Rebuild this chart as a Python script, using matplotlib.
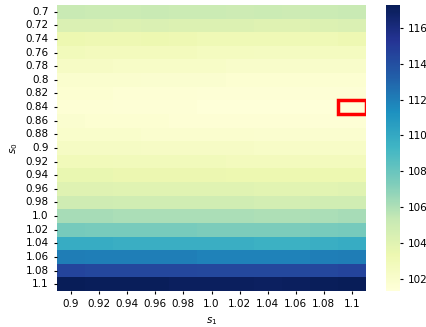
import numpy as np
import matplotlib
matplotlib.use("Agg")
import matplotlib.pyplot as plt
import seaborn as sns
from matplotlib.patches import Rectangle

s0 = [0.7, 0.72, 0.74, 0.76, 0.78, 0.8, 0.82, 0.84, 0.86, 0.88, 0.9,
      0.92, 0.94, 0.96, 0.98, 1.0, 1.02, 1.04, 1.06, 1.08, 1.1]
s1 = [0.9, 0.92, 0.94, 0.96, 0.98, 1.0, 1.02, 1.04, 1.06, 1.08, 1.1]

# rows follow s0, columns follow s1
values = [
    [105.2, 105.1, 105.1, 105.2, 105.1, 105.1, 105.0, 105.1, 105.0, 105.1, 105.2],
    [104.3, 104.3, 104.2, 104.3, 104.2, 104.2, 104.2, 104.1, 104.1, 104.2, 104.3],
    [103.3, 103.2, 103.2, 103.3, 103.2, 103.1, 103.1, 103.1, 103.1, 103.1, 103.2],
    [102.8, 102.7, 102.7, 102.7, 102.7, 102.6, 102.6, 102.5, 102.5, 102.6, 102.6],
    [102.3, 102.3, 102.2, 102.2, 102.2, 102.2, 102.1, 102.1, 102.1, 102.1, 102.1],
    [101.9, 101.9, 101.9, 101.8, 101.8, 101.8, 101.7, 101.7, 101.7, 101.7, 101.7],
    [101.7, 101.7, 101.6, 101.6, 101.6, 101.5, 101.5, 101.5, 101.5, 101.5, 101.5],
    [101.6, 101.6, 101.5, 101.5, 101.5, 101.4, 101.4, 101.4, 101.4, 101.4, 101.3],
    [101.8, 101.7, 101.7, 101.7, 101.6, 101.6, 101.6, 101.6, 101.6, 101.5, 101.5],
    [102.0, 102.0, 102.0, 101.9, 101.9, 101.9, 101.9, 101.8, 101.8, 101.8, 101.8],
    [102.4, 102.4, 102.4, 102.3, 102.3, 102.3, 102.3, 102.2, 102.2, 102.2, 102.2],
    [102.9, 102.9, 102.8, 102.8, 102.8, 102.8, 102.7, 102.7, 102.7, 102.7, 102.7],
    [103.5, 103.5, 103.4, 103.4, 103.4, 103.4, 103.3, 103.3, 103.3, 103.3, 103.3],
    [104.1, 104.1, 104.0, 104.0, 104.0, 104.0, 104.0, 103.9, 103.9, 103.9, 104.0],
    [104.9, 104.9, 104.8, 104.8, 104.8, 104.8, 104.8, 104.7, 104.7, 104.8, 104.8],
    [106.2, 106.2, 106.1, 106.1, 106.1, 106.1, 106.1, 106.0, 106.0, 106.1, 106.2],
    [107.6, 107.5, 107.5, 107.5, 107.5, 107.4, 107.4, 107.4, 107.4, 107.5, 107.6],
    [109.8, 109.8, 109.7, 109.7, 109.7, 109.7, 109.7, 109.6, 109.6, 109.7, 109.8],
    [112.1, 112.0, 112.0, 112.0, 112.0, 111.9, 111.9, 111.9, 111.9, 112.0, 112.1],
    [114.5, 114.4, 114.4, 114.4, 114.4, 114.3, 114.3, 114.3, 114.3, 114.4, 114.5],
    [117.3, 117.2, 117.2, 117.2, 117.1, 117.1, 117.1, 117.0, 117.1, 117.2, 117.3],
]

best_row, best_col = 7, 10

fig = plt.figure(figsize=(4.26, 3.27), dpi=100)
ax = fig.add_axes([0.134, 0.110, 0.725, 0.875])
cax = fig.add_axes([0.905, 0.110, 0.033, 0.875])

sns.heatmap(np.array(values), ax=ax, cbar_ax=cax, cmap="YlGnBu",
            xticklabels=s1, yticklabels=s0)
ax.add_patch(Rectangle((best_col, best_row), 1, 1, fill=False,
                       edgecolor="red", lw=2.5))

ax.set_xlabel("$s_1$", fontsize=7.5)
ax.set_ylabel("$s_0$", fontsize=7.5)
ax.tick_params(labelsize=7.5, length=2.5)
plt.setp(ax.get_yticklabels(), rotation=0)
plt.setp(ax.get_xticklabels(), rotation=0)
cax.tick_params(labelsize=7.5, length=2.5)

fig.savefig("out.png", dpi=100)
